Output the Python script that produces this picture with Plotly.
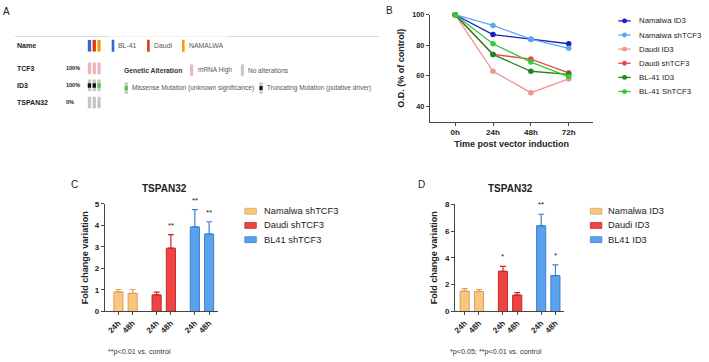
import plotly.graph_objects as go

W, H = 709, 362
def px(x): return x / W
def py(y): return 1 - y / H

FONT = "Liberation Sans, Arial, sans-serif"
TXT = "#222222"
AX = "#444444"

# ---------------- Panel A data (oncoprint) ----------------
cell_lines = ["BL-41", "Daudi", "NAMALWA"]
cell_line_colors = ["#3366cc", "#dc3912", "#ff9900"]
genes = ["TCF3", "ID3", "TSPAN32"]
gene_pct = ["100%", "100%", "0%"]
tcf3_status = ["mRNA High", "mRNA High", "mRNA High"]
id3_status = ["none", "none", "none"]
tspan32_status = ["none", "none", "none"]
id3_mutations = ["Truncating", "Truncating", "Missense"]
status_colors = {"mRNA High": "#efb3ba", "none": "#c6c6c6"}
mutation_colors = {"Truncating": "#111111", "Missense": "#3fce3f"}

# ---------------- Panel B data ----------------
timepoints = ["0h", "24h", "48h", "72h"]
series_names = ["Namalwa ID3", "Namalwa shTCF3", "Daudi ID3", "Daudi shTCF3", "BL-41 ID3", "BL-41 ShTCF3"]
namalwa_id3 = [100, 87, 84, 81]
namalwa_shtcf3 = [100, 93, 84, 78]
daudi_id3 = [100, 63, 49, 58]
daudi_shtcf3 = [100, 74, 71, 62]
bl41_id3 = [100, 74, 63, 61]
bl41_shtcf3 = [100, 81, 69, 59.5]
series_colors = ["#1c1cc8", "#5ea6ee", "#f29494", "#e84848", "#1b8a1b", "#34c934"]

# ---------------- Panel C / D data ----------------
bar_times = ["24h", "48h"]
c_groups = ["Namalwa shTCF3", "Daudi shTCF3", "BL41 shTCF3"]
c_namalwa = [0.91, 0.84]
c_namalwa_sem = [0.11, 0.18]
c_daudi = [0.77, 2.94]
c_daudi_sem = [0.13, 0.63]
c_bl41 = [3.93, 3.60]
c_bl41_sem = [0.80, 0.57]
c_stars = [["", ""], ["", "**"], ["**", "**"]]

d_groups = ["Namalwa ID3", "Daudi ID3", "BL41 ID3"]
d_namalwa = [1.51, 1.49]
d_namalwa_sem = [0.20, 0.14]
d_daudi = [3.00, 1.22]
d_daudi_sem = [0.36, 0.19]
d_bl41 = [6.39, 2.68]
d_bl41_sem = [0.86, 0.80]
d_stars = [["", ""], ["*", ""], ["**", "*"]]

group_fill = ["#f9c680", "#f04444", "#5aa2ef"]
group_edge = ["#d9a15c", "#c42828", "#3b7fcf"]
GROUP_STEP = 2.68

fig = go.Figure()
shapes = []
ann = []

# ================= Panel A =================
fig.add_trace(go.Bar(x=list(range(len(cell_lines))), y=[1] * 3, base=[0] * 3, width=0.69,
                     marker=dict(color=cell_line_colors, line=dict(width=0)),
                     xaxis="x5", yaxis="y6", showlegend=False, hoverinfo="skip"))
for gi, statuses in enumerate([tcf3_status, id3_status, tspan32_status]):
    fig.add_trace(go.Bar(x=list(range(len(statuses))), y=[0.68] * 3, base=[gi - 0.34] * 3, width=0.69,
                         marker=dict(color=[status_colors[s] for s in statuses], line=dict(width=0)),
                         xaxis="x5", yaxis="y5", showlegend=False, hoverinfo="skip"))
id3_row = genes.index("ID3")
fig.add_trace(go.Bar(x=list(range(len(id3_mutations))), y=[0.26] * 3, base=[id3_row - 0.13] * 3, width=0.69,
                     marker=dict(color=[mutation_colors[m] for m in id3_mutations], line=dict(width=0)),
                     xaxis="x5", yaxis="y5", showlegend=False, hoverinfo="skip"))

ann.append(dict(text="Name", x=px(13), y=0.5, xref="paper", yref="y6", xanchor="left", yanchor="middle",
                showarrow=False, font=dict(size=7, family=FONT, color=TXT, weight="bold")))
for gi, g in enumerate(genes):
    ann.append(dict(text=g, x=px(13), y=gi, xref="paper", yref="y5", xanchor="left", yanchor="middle",
                    showarrow=False, font=dict(size=7, family=FONT, color=TXT, weight="bold")))
    ann.append(dict(text=gene_pct[gi], x=px(62), y=gi, xref="paper", yref="y5", xanchor="left", yanchor="middle",
                    showarrow=False, font=dict(size=5.5, family=FONT, color=TXT, weight="bold")))

# top separator line
shapes.append(dict(type="line", xref="paper", yref="paper", x0=px(13), x1=px(107), y0=py(33.3), y1=py(33.3),
                   line=dict(color="#dcdcdc", width=1)))
shapes.append(dict(type="line", xref="paper", yref="paper", x0=px(107), x1=px(225), y0=py(33.3), y1=py(33.3),
                   line=dict(color="#f3f3f3", width=1)))
shapes.append(dict(type="line", xref="paper", yref="paper", x0=px(225), x1=px(378), y0=py(33.3), y1=py(33.3),
                   line=dict(color="#dcdcdc", width=1)))

# legend of panel A
leg_x = [110, 145.5, 180.5]
for i, name in enumerate(cell_lines):
    shapes.append(dict(type="rect", xref="paper", yref="paper", x0=px(leg_x[i]), x1=px(leg_x[i] + 2.6),
                       y0=py(49), y1=py(36.7), fillcolor=cell_line_colors[i], line=dict(width=0)))
    ann.append(dict(text=name, x=px(leg_x[i] + 4.8), y=py(42.8), xref="paper", yref="paper", xanchor="left",
                    yanchor="middle", showarrow=False, font=dict(size=6.9, family=FONT, color="#555")))
ann.append(dict(text="Genetic Alteration", x=px(120.5), y=py(67.8), xref="paper", yref="paper", xanchor="left",
                yanchor="middle", showarrow=False, font=dict(size=6.8, family=FONT, color="#333", weight="bold")))
alt_leg = [("mRNA High", 188.5, 67.8, status_colors["mRNA High"], None),
           ("No alterations", 239.5, 67.8, status_colors["none"], None),
           ("Missense Mutation (unknown significance)", 123, 86.2, status_colors["none"], mutation_colors["Missense"]),
           ("Truncating Mutation (putative driver)", 258.2, 86.2, status_colors["none"], mutation_colors["Truncating"])]
for text, x0, yc, col, inner in alt_leg:
    shapes.append(dict(type="rect", xref="paper", yref="paper", x0=px(x0), x1=px(x0 + 3.2),
                       y0=py(yc + 5.8), y1=py(yc - 5.8), fillcolor=col, line=dict(width=0)))
    if inner:
        shapes.append(dict(type="rect", xref="paper", yref="paper", x0=px(x0), x1=px(x0 + 3.2),
                           y0=py(yc + 2), y1=py(yc - 2), fillcolor=inner, line=dict(width=0)))
    ann.append(dict(text=text, x=px(x0 + 5.6), y=py(yc), xref="paper", yref="paper", xanchor="left",
                    yanchor="middle", showarrow=False, font=dict(size=6.5, family=FONT, color="#555")))

# ================= Panel B =================
for name, vals, col in zip(series_names,
                           [namalwa_id3, namalwa_shtcf3, daudi_id3, daudi_shtcf3, bl41_id3, bl41_shtcf3],
                           series_colors):
    fig.add_trace(go.Scatter(x=timepoints, y=vals, mode="lines+markers", name=name,
                             line=dict(color=col, width=1.3), marker=dict(color=col, size=5.5),
                             cliponaxis=False, showlegend=False, xaxis="x", yaxis="y"))
for i, (name, col) in enumerate(zip(series_names, series_colors)):
    yc = 17.3 + 14.5 * i
    shapes.append(dict(type="line", xref="paper", yref="paper", x0=px(618), x1=px(630.5), y0=py(yc), y1=py(yc),
                       line=dict(color=col, width=1.3)))
    shapes.append(dict(type="circle", xref="paper", yref="paper", x0=px(621.8), x1=px(626.8),
                       y0=py(yc + 2.5), y1=py(yc - 2.5), fillcolor=col, line=dict(width=0)))
    ann.append(dict(text=name, x=px(636.5), y=py(yc), xref="paper", yref="paper", xanchor="left",
                    yanchor="middle", showarrow=False, font=dict(size=7.8, family=FONT, color=TXT)))

# ================= Panels C and D =================
def bar_panel(xa, ya, groups, vals, sems, stars, legend_x, legend_text_x):
    for gi, (gname, v, s, st) in enumerate(zip(groups, vals, sems, stars)):
        xs = [gi * GROUP_STEP + ti for ti in range(len(bar_times))]
        fig.add_trace(go.Bar(x=xs, y=v, width=0.64, name=gname,
                             marker=dict(color=group_fill[gi], line=dict(color=group_edge[gi], width=1)),
                             error_y=dict(type="data", symmetric=False, array=s, arrayminus=[0] * len(s),
                                          color=group_edge[gi], thickness=1.2, width=3),
                             showlegend=False, xaxis=xa, yaxis=ya))
        for x, yv, sv, star in zip(xs, v, s, st):
            if star:
                ann.append(dict(text=star, x=x, y=yv + sv, xref=xa, yref=ya, xanchor="center", yanchor="bottom",
                                yshift=3, showarrow=False, font=dict(size=8, family=FONT, color=TXT)))
        yc = 212.5 + 14.6 * gi
        shapes.append(dict(type="rect", xref="paper", yref="paper", x0=px(legend_x), x1=px(legend_x + 11.5),
                           y0=py(yc + 3), y1=py(yc - 3), fillcolor=group_fill[gi],
                           line=dict(color=group_edge[gi], width=0.8)))
        ann.append(dict(text=gname, x=px(legend_text_x), y=py(yc), xref="paper", yref="paper", xanchor="left",
                        yanchor="middle", showarrow=False, font=dict(size=9.3, family=FONT, color=TXT)))

bar_panel("x2", "y2", c_groups, [c_namalwa, c_daudi, c_bl41], [c_namalwa_sem, c_daudi_sem, c_bl41_sem],
          c_stars, 243.5, 261)
bar_panel("x3", "y3", d_groups, [d_namalwa, d_daudi, d_bl41], [d_namalwa_sem, d_daudi_sem, d_bl41_sem],
          d_stars, 590, 606)

bar_tickvals = [gi * GROUP_STEP + ti for gi in range(3) for ti in range(len(bar_times))]
bar_ticktext = bar_times * 3

for text, x, y, size, bold in [("A", 5, 7.5, 10, False), ("B", 389, 6.5, 10, False),
                               ("C", 73, 185, 10, False), ("D", 421, 185, 10, False),
                               ("TSPAN32", 162.5, 189.5, 10, True), ("TSPAN32", 510, 189.5, 10, True)]:
    ann.append(dict(text=text, x=px(x), y=py(y), xref="paper", yref="paper", xanchor="center", yanchor="middle",
                    showarrow=False, font=dict(size=size, family=FONT, color=TXT, weight="bold" if bold else "normal")))
ann.append(dict(text="**p<0.01 vs. control", x=px(104.5), y=py(356.5), xref="paper", yref="paper", xanchor="left",
                yanchor="middle", showarrow=False, font=dict(size=7.2, family=FONT, color="#333")))
ann.append(dict(text="*p<0.05; **p<0.01 vs. control", x=px(447.5), y=py(356.5), xref="paper", yref="paper",
                xanchor="left", yanchor="middle", showarrow=False, font=dict(size=7.2, family=FONT, color="#333")))

tickfont_b = dict(size=7.2, family=FONT, color=TXT, weight="bold")
tickfont_cd = dict(size=8, family=FONT, color=TXT, weight="bold")
titlefont = dict(size=9, family=FONT, color=TXT, weight="bold")
common_axis = dict(showgrid=False, zeroline=False, showline=True, linecolor=AX, linewidth=1,
                   ticks="outside", ticklen=3, tickwidth=1, tickcolor=AX)

fig.update_layout(
    width=W, height=H, margin=dict(l=0, r=0, t=0, b=0),
    paper_bgcolor="white", plot_bgcolor="white", barmode="overlay", showlegend=False,
    font=dict(family=FONT, color=TXT),
    xaxis=dict(domain=[px(429), px(593)], anchor="y", type="category", categoryorder="array",
               categoryarray=timepoints, range=[-0.67, 3.65], tickfont=dict(size=8, family=FONT, color=TXT, weight="bold"),
               title=dict(text="Time post vector induction", font=titlefont, standoff=4), **common_axis),
    yaxis=dict(domain=[py(120.7), py(11)], anchor="x", range=[30, 100], tickvals=[40, 60, 80, 100],
               tickfont=tickfont_b,
               title=dict(text="O.D. (% of control)", font=titlefont, standoff=6), **common_axis),
    xaxis2=dict(domain=[px(103), px(217)], anchor="y2", range=[-0.96, 7.01], tickvals=bar_tickvals,
                ticktext=bar_ticktext, tickangle=-45, tickfont=tickfont_cd, **common_axis),
    yaxis2=dict(domain=[py(315.3), py(205)], anchor="x2", range=[0, 5], dtick=1, tickfont=tickfont_cd,
                title=dict(text="Fold change variation", font=titlefont, standoff=4), **common_axis),
    xaxis3=dict(domain=[px(454.3), px(564)], anchor="y3", range=[-0.68, 6.99], tickvals=bar_tickvals,
                ticktext=bar_ticktext, tickangle=-45, tickfont=tickfont_cd, **common_axis),
    yaxis3=dict(domain=[py(315.3), py(205.3)], anchor="x3", range=[0, 8], dtick=2, tickfont=tickfont_cd,
                title=dict(text="Fold change variation", font=titlefont, standoff=5), **common_axis),
    xaxis5=dict(domain=[px(80), px(105)], anchor="y5", range=[-1.604, 3.604], visible=False),
    yaxis5=dict(domain=[py(110), py(57)], anchor="x5", range=[2.514, -0.514], visible=False),
    yaxis6=dict(domain=[py(49), py(36.7)], anchor="x5", range=[0, 1], visible=False),
    shapes=shapes, annotations=ann,
)

fig.write_html("out.html", config={"displayModeBar": False},
               post_script="document.body.style.margin='0';")
